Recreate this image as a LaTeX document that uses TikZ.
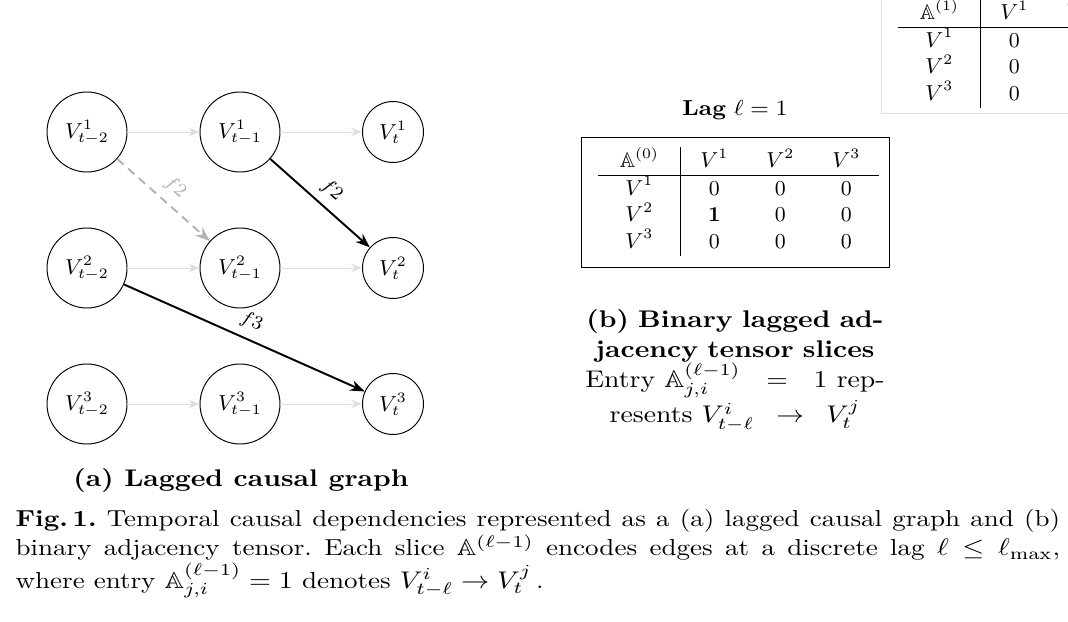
\documentclass[tikz,border=0pt]{standalone}
\usepackage{amsmath,amssymb}
\usepackage{array}
\usetikzlibrary{arrows.meta,positioning,calc}

% one slice of the lagged adjacency tensor
\newcommand{\slicetab}[2]{%
  \renewcommand{\arraystretch}{1.1}%
  \begin{tabular}{w{c}{22pt}|w{c}{15.4pt}w{c}{15.4pt}w{c}{15.4pt}}
    $\mathbb{A}^{(#1)}$ & $V^1$ & $V^2$ & $V^3$ \\ \hline
    $V^1$ & 0 & 0 & 0 \\
    $V^2$ & #2 & 0 & 0 \\
    $V^3$ & 0 & 0 & 0
  \end{tabular}}

\begin{document}
\begin{tikzpicture}[x=0.415pt,y=-0.415pt,
    past/.style={circle,draw,minimum size=33.2pt,inner sep=0pt,font=\fontsize{8.8}{10.5}\selectfont},
    now/.style={circle,draw,minimum size=25.3pt,inner sep=0pt,font=\fontsize{8.8}{10.5}\selectfont},
    persist/.style={draw=gray!25,-{Stealth[length=4.5pt,width=3.5pt]}},
    causal/.style={line width=0.8pt,-{Stealth[length=6pt,width=4.5pt]}},
    lbl/.style={font=\footnotesize,midway,above,sloped},
    slice/.style={inner sep=0pt,font=\fontsize{8.8}{10}\selectfont},
    wide/.style={transform shape,xscale=1.15},
    subcap/.style={wide,font=\fontsize{10}{12.5}\selectfont,inner sep=0pt}]
  \useasboundingbox (0,0) rectangle (1068,622);
  \clip (0,0) rectangle (1068,622);

  % GRAPH
  \foreach \i/\y in {1/132,2/268,3/404}{
    \node[past] (a\i) at (87,\y) {$V^{\i}_{t-2}$};
    \node[past] (b\i) at (240,\y) {$V^{\i}_{t-1}$};
    \node[now] (c\i) at (393,\y) {$V^{\i}_{t}$};
    \draw[persist] (a\i) -- (b\i);
    \draw[persist] (b\i) -- (c\i);
  }
  \draw[causal,dash pattern=on 3.5pt off 2.5pt,gray!60] (a1) -- (b2) node[lbl] {$f2$};
  \draw[causal] (b1) -- (c2) node[lbl] {$f2$};
  \draw[causal] (a2) -- (c3) node[lbl] {$f3$};
  \node[subcap,anchor=base] (capa) at (241,487) {\textbf{(a) Lagged causal graph}};

  % TENSOR SLICES
  \node[slice,anchor=north west] (slice1) at (898,-1) {\slicetab{1}{0}};
  \draw[gray!25] ([shift={(-17,-10)}]slice1.north west) rectangle ([shift={(10,5)}]slice1.south east);
  \node[slice,anchor=north west] (slice0) at (598,147) {\slicetab{0}{\textbf{1}}};
  \draw ([shift={(-17,-10)}]slice0.north west) rectangle ([shift={(10,11)}]slice0.south east);
  \node[font=\small,inner sep=0pt,transform shape,xscale=1.07] (lag) at (735,110) {\textbf{Lag} $\ell=1$};
  \node[subcap,anchor=north,text width=108pt,align=center] (capb) at (735,309) {%
    \textbf{(b) Binary lagged ad-}\\
    \textbf{jacency tensor slices}\\
    \makebox[\linewidth]{Entry $\mathbb{A}^{(\ell-1)}_{j,i}$\hfill$=$\hfill 1 rep-}\\
    resents $V^i_{t-\ell}\;\rightarrow\;V^j_t$};

  % CAPTION
  \node[wide,xscale=1.017,anchor=north west,text width=370.7pt,align=justify,inner sep=0pt,
    font=\fontsize{9.6}{12}\selectfont] (cap) at (15,509) {\frenchspacing
    \textbf{Fig.\,1.} Temporal causal dependencies represented as a (a) lagged causal graph and (b)\linebreak
    binary adjacency tensor. Each slice $\mathbb{A}^{(\ell-1)}$ encodes edges at a discrete lag $\ell \leq \ell_{\max}$,\linebreak
    where entry $\mathbb{A}^{(\ell-1)}_{j,i} = 1$ denotes $V^i_{t-\ell} \rightarrow V^j_t$\,.};
\end{tikzpicture}
\end{document}
